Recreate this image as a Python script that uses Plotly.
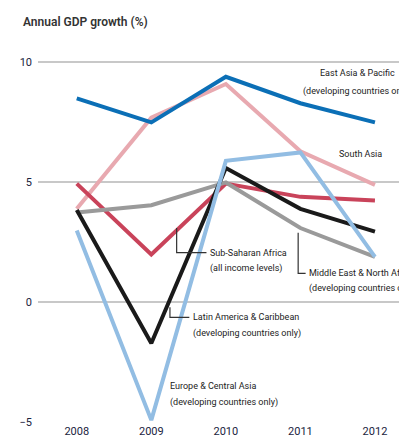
import plotly.graph_objects as go

years = [2008, 2009, 2010, 2011, 2012]

east_asia = [8.5, 7.5, 9.4, 8.3, 7.5]
south_asia = [3.9, 7.7, 9.1, 6.3, 4.9]
sub_saharan = [4.95, 2.0, 4.95, 4.4, 4.25]
latin_america = [3.85, -1.7, 5.6, 3.9, 2.95]
middle_east = [3.75, 4.05, 5.0, 3.1, 1.9]
europe_ca = [3.0, -4.9, 5.9, 6.25, 1.9]

y_ticks = [-5, 0, 5, 10]

series = [
    ("South Asia", south_asia, "#e8a9b0"),
    ("Sub-Saharan Africa", sub_saharan, "#c9435a"),
    ("Middle East & North Africa", middle_east, "#9a9a9a"),
    ("Latin America & Caribbean", latin_america, "#1a1a1a"),
    ("Europe & Central Asia", europe_ca, "#92bde3"),
    ("East Asia & Pacific", east_asia, "#0b6fb6"),
]

font_family = "Roboto, Liberation Sans Narrow, sans-serif"

fig = go.Figure()
for name, vals, color in series:
    fig.add_trace(go.Scatter(x=years, y=vals, mode="lines", name=name,
                             line={"color": color, "width": 4}))

# leader lines for labels
leaders = [
    ([2009.34, 2009.34, 2009.74], [3.1, 2.08, 2.08]),
    ([2010.97, 2010.97, 2011.07], [2.9, 1.21, 1.21]),
    ([2009.25, 2009.25, 2009.51], [-0.2, -0.62, -0.62]),
]
for xs, ys in leaders:
    fig.add_trace(go.Scatter(x=xs, y=ys, mode="lines", showlegend=False,
                             line={"color": "#333333", "width": 1.2}, hoverinfo="skip"))

# one annotation per text line: (x, y, text, anchor)
labels = [
    (2011.76, 9.54, "East Asia & Pacific", "center"),
    (2011.76, 8.79, "(developing countries only)", "center"),
    (2011.8, 6.17, "South Asia", "center"),
    (2009.76, 2.08, "Sub-Saharan Africa", "left"),
    (2009.76, 1.42, "(all income levels)", "left"),
    (2011.09, 1.21, "Middle East & North Africa", "left"),
    (2011.09, 0.58, "(developing countries only)", "left"),
    (2009.53, -0.62, "Latin America & Caribbean", "left"),
    (2009.53, -1.29, "(developing countries only)", "left"),
    (2009.22, -3.46, "Europe & Central Asia", "left"),
    (2009.22, -4.17, "(developing countries only)", "left"),
]
for x, y, text, anchor in labels:
    fig.add_annotation(x=x, y=y, text=text, showarrow=False, xanchor=anchor,
                       yanchor="middle", align=anchor,
                       font={"size": 9, "color": "#222222", "family": font_family})

fig.add_annotation(x=-0.045, y=1.07, xref="paper", yref="paper", yanchor="middle",
                   xanchor="left", text="Annual GDP growth (%)", showarrow=False,
                   font={"size": 12, "color": "#333333", "family": font_family,
                         "weight": 600})

fig.update_xaxes(range=[2007.48, 2012.43], tickvals=years, showgrid=False,
                 zeroline=False, showline=False, ticks="", automargin=False,
                 tickfont={"size": 11, "color": "#1a2440", "family": font_family})
fig.update_yaxes(range=[-5.02, 10.6], tickvals=y_ticks, showgrid=True,
                 gridcolor="#c8c8c8", gridwidth=2, zeroline=False, showline=False,
                 ticks="", ticklabelstandoff=5, automargin=False,
                 tickfont={"size": 11, "color": "#1a2440", "family": font_family})
# the page body adds an 8px offset, so the figure is drawn 8px smaller
fig.update_layout(
    width=399, height=437,
    margin={"l": 30, "r": 0, "t": 40, "b": 22},
    plot_bgcolor="white", paper_bgcolor="white",
    showlegend=False,
)
fig.write_html("out.html")
